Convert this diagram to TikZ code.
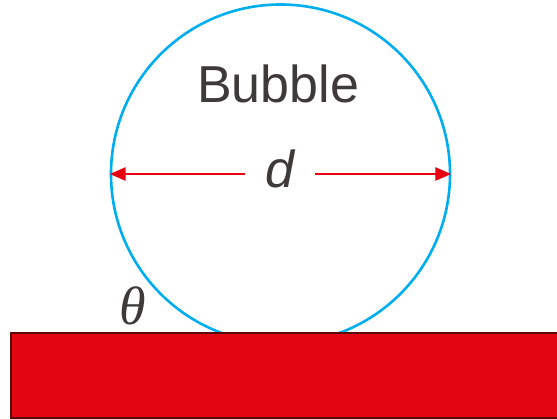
\documentclass[tikz,border=0pt]{standalone}
\usepackage{fontspec}
\setmainfont{Liberation Sans}
\newfontfamily\serifit{Liberation Serif}
\usetikzlibrary{arrows.meta}
\definecolor{bubblecol}{HTML}{00AEEF}
\definecolor{arrowcol}{HTML}{E60012}
\definecolor{groundcol}{HTML}{E20613}
\definecolor{groundedge}{HTML}{5A0808}
\definecolor{textcol}{HTML}{3E3A39}
\tikzset{
  bubblestyle/.style={circle, draw=bubblecol, line width=2.6pt, minimum size=339pt, inner sep=0pt},
  groundstyle/.style={rectangle, fill=groundcol, draw=groundedge, line width=1.8pt, inner sep=0pt, anchor=north west, minimum width=560pt, minimum height=85pt},
  lbl/.style={text=textcol, font=\fontsize{52}{60}\selectfont, inner sep=0pt},
  dim/.style={draw=arrowcol, line width=2.6pt, -{Triangle[length=16pt,width=13pt]}}
}
\begin{document}
\begin{tikzpicture}[x=1pt,y=-1pt]
\useasboundingbox (0,0) rectangle (557,419);
\node[bubblestyle] (bubble) at (280.5,174) {};
\node[groundstyle] (ground) at (10,332) {};
\node[lbl, anchor=base] (title) at (278,103) {Bubble};
\node[lbl, anchor=base, minimum width=70pt, font=\fontsize{52}{60}\selectfont\itshape] (dlabel) at (280,188) {d};
\coordinate (dl) at (245,174);
\coordinate (dr) at (315,174);
\draw[dim] (dl) -- (bubble.west);
\draw[dim] (dr) -- (bubble.east);
\node[lbl, anchor=base, font=\fontsize{54}{60}\selectfont\serifit\itshape] (theta) at (133,325) {θ};
\end{tikzpicture}
\end{document}
